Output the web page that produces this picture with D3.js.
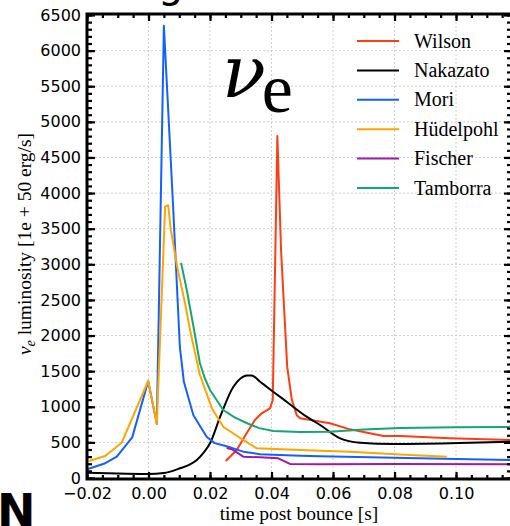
<!DOCTYPE html>
<html>
<head>
<meta charset="utf-8">
<script src="https://cdn.jsdelivr.net/npm/d3@7"></script>
<style>
  html, body { margin: 0; padding: 0; background: #fff; }
  svg { display: block; }
</style>
</head>
<body>
<div id="chart"></div>
<script>
// Electron-neutrino luminosity vs. time post bounce for six supernova models
const seriesNames = ["Wilson", "Nakazato", "Mori", "Hüdelpohl", "Fischer", "Tamborra"];
const seriesColors = ["#ff3d12", "#000000", "#1460ff", "#ffa500", "#a01aa8", "#12a870"];

const wilsonT = [0.0251, 0.0287, 0.0319, 0.0346, 0.0368, 0.0395, 0.0404, 0.0419, 0.0431, 0.0451, 0.0466, 0.0482, 0.0493, 0.0590, 0.0655, 0.0764, 0.0818, 0.0980, 0.1176];
const wilsonL = [239, 393, 627, 814, 908, 978, 1095, 4800, 3200, 1560, 1100, 880, 838, 768, 683, 590, 590, 557, 534];

const nakazatoT = [-0.0197, -0.0100, -0.0001, 0.0050, 0.0102, 0.0135, 0.0157, 0.0180, 0.0200, 0.0233, 0.0276, 0.0300, 0.0319, 0.0335, 0.0363, 0.0384, 0.0449, 0.0514, 0.0558, 0.0623, 0.0688, 0.0796, 0.0980, 0.1176];
const nakazatoL = [75, 62, 56, 70, 136, 190, 253, 360, 487, 861, 1282, 1400, 1440, 1440, 1352, 1282, 1071, 861, 744, 557, 496, 477, 487, 510];

const moriT = [-0.0197, -0.0145, -0.0103, -0.0053, -0.0001, 0.0027, 0.0050, 0.0079, 0.0102, 0.0115, 0.0146, 0.0189, 0.0215, 0.0254, 0.0308, 0.0363, 0.0493, 0.0558, 0.0800, 0.1000, 0.1176];
const moriL = [126, 200, 300, 570, 1360, 760, 6350, 3900, 1840, 1350, 880, 580, 490, 445, 370, 335, 313, 305, 285, 268, 253];

const huedelpohlT = [-0.0193, -0.0141, -0.0087, -0.0001, 0.0027, 0.0054, 0.0064, 0.0072, 0.0094, 0.0119, 0.0135, 0.0167, 0.0206, 0.0243, 0.0308, 0.0352, 0.0493, 0.0558, 0.0655, 0.0818, 0.0970];
const huedelpohlL = [239, 309, 496, 1362, 760, 3810, 3830, 3500, 2950, 2450, 2080, 1450, 980, 720, 534, 417, 393, 383, 369, 330, 300];

const fischerT = [0.0254, 0.0271, 0.0308, 0.0363, 0.0422, 0.0460, 0.0558, 0.0800, 0.1176];
const fischerL = [420, 405, 299, 290, 276, 197, 192, 195, 192];

const tamborraT = [0.0106, 0.0124, 0.0146, 0.0167, 0.0183, 0.0200, 0.0243, 0.0280, 0.0319, 0.0360, 0.0406, 0.0493, 0.0590, 0.0700, 0.0818, 0.1000, 0.1176];
const tamborraL = [3020, 2650, 2130, 1615, 1400, 1236, 955, 850, 772, 700, 660, 646, 650, 680, 702, 712, 716];

const xTickValues = [-0.02, 0.00, 0.02, 0.04, 0.06, 0.08, 0.10];
const yTickValues = [0, 500, 1000, 1500, 2000, 2500, 3000, 3500, 4000, 4500, 5000, 5500, 6000, 6500];

const allT = [wilsonT, nakazatoT, moriT, huedelpohlT, fischerT, tamborraT];
const allL = [wilsonL, nakazatoL, moriL, huedelpohlL, fischerL, tamborraL];

const W = 510, H = 526;
const frame = { left: 87, right: 512, top: 14, bottom: 479 };

const x = d3.scaleLinear().domain([-0.02, 0.1182]).range([frame.left, frame.right]);
const y = d3.scaleLinear().domain([0, 6500]).range([478, 15]);

const svg = d3.select("#chart").append("svg")
  .attr("width", W).attr("height", H)
  .style("background", "#fff");

const serif = "'Liberation Serif', 'Times New Roman', serif";
const sans = "'DejaVu Sans', sans-serif";

// dotted grid at the major ticks
const grid = svg.append("g");
grid.selectAll("line.gx").data(xTickValues.filter(v => v > -0.02))
  .join("line")
  .attr("x1", d => x(d)).attr("x2", d => x(d))
  .attr("y1", frame.top).attr("y2", frame.bottom)
  .attr("stroke", "#cfcfcf").attr("stroke-width", 1).attr("stroke-dasharray", "2,2");
grid.selectAll("line.gy").data(yTickValues.filter(v => v > 0 && v < 6500))
  .join("line")
  .attr("x1", frame.left).attr("x2", frame.right)
  .attr("y1", d => y(d)).attr("y2", d => y(d))
  .attr("stroke", "#cfcfcf").attr("stroke-width", 1).attr("stroke-dasharray", "2,2");

// clip the curves to the plotting frame
svg.append("clipPath").attr("id", "plotclip")
  .append("rect").attr("x", frame.left).attr("y", frame.top)
  .attr("width", frame.right - frame.left).attr("height", frame.bottom - frame.top);

const plot = svg.append("g").attr("clip-path", "url(#plotclip)");
seriesNames.forEach((name, i) => {
  const pts = allT[i].map((t, k) => [t, allL[i][k]]);
  const line = d3.line()
    .x(d => x(d[0])).y(d => y(d[1]))
    .curve(name === "Nakazato" ? d3.curveMonotoneX : d3.curveLinear);
  plot.append("path")
    .datum(pts)
    .attr("d", line)
    .attr("fill", "none")
    .attr("stroke", seriesColors[i])
    .attr("stroke-width", 2)
    .attr("stroke-linejoin", "round");
});

// axes with inward ticks (major + minor)
const xMinor = d3.range(-0.02, 0.1181, 0.005).map(v => +v.toFixed(3));
const yMinor = d3.range(0, 6501, 100);

const fmtX = v => (v < 0 ? "\u2212" : "") + Math.abs(v).toFixed(2);

const bottomAxis = d3.axisBottom(x).tickValues(xTickValues).tickSize(-7).tickPadding(9).tickFormat(fmtX);
const bottomMinor = d3.axisBottom(x).tickValues(xMinor).tickSize(-4).tickFormat("");
const topMinor = d3.axisTop(x).tickValues(xMinor).tickSize(-4).tickFormat("");
const topMajor = d3.axisTop(x).tickValues(xTickValues).tickSize(-7).tickFormat("");
const leftAxis = d3.axisLeft(y).tickValues(yTickValues).tickSize(-8).tickPadding(6).tickFormat(d3.format("d"));
const leftMinor = d3.axisLeft(y).tickValues(yMinor).tickSize(-5).tickFormat("");
const rightMajor = d3.axisRight(y).tickValues(yTickValues).tickSize(-8).tickFormat("");
const rightMinor = d3.axisRight(y).tickValues(yMinor).tickSize(-5).tickFormat("");

function styleAxis(g) {
  g.select(".domain").remove();
  g.selectAll(".tick line").attr("stroke", "#000").attr("stroke-width", 2.2);
  g.selectAll(".tick text").attr("fill", "#000").attr("font-family", sans).attr("font-size", 16);
}

svg.append("g").attr("transform", `translate(0,${frame.bottom})`).call(bottomMinor).call(styleAxis);
svg.append("g").attr("transform", `translate(0,${frame.bottom})`).call(bottomAxis).call(styleAxis);
svg.append("g").attr("transform", `translate(0,${frame.top})`).call(topMinor).call(styleAxis);
svg.append("g").attr("transform", `translate(0,${frame.top})`).call(topMajor).call(styleAxis);
svg.append("g").attr("transform", `translate(${frame.left},0)`).call(leftMinor).call(styleAxis);
svg.append("g").attr("transform", `translate(${frame.left},0)`).call(leftAxis).call(styleAxis);
svg.append("g").attr("transform", `translate(${frame.right},0)`).call(rightMinor).call(styleAxis);
svg.append("g").attr("transform", `translate(${frame.right},0)`).call(rightMajor).call(styleAxis);

// thick frame
svg.append("rect")
  .attr("x", frame.left).attr("y", frame.top)
  .attr("width", frame.right - frame.left).attr("height", frame.bottom - frame.top)
  .attr("fill", "none").attr("stroke", "#000").attr("stroke-width", 3);

// axis titles
svg.append("text")
  .attr("x", 299).attr("y", 520)
  .attr("text-anchor", "middle")
  .attr("font-family", serif).attr("font-size", 19.5)
  .text("time post bounce [s]");

const yl = svg.append("text")
  .attr("transform", "translate(31,244) rotate(-90)")
  .attr("text-anchor", "middle")
  .attr("font-family", serif).attr("font-size", 19.5);
yl.append("tspan").attr("font-style", "italic").text("\u03bd");
yl.append("tspan").attr("font-style", "italic").attr("font-size", 14).attr("dy", 4).text("e");
yl.append("tspan").attr("dy", -4).text(" luminosity [1e + 50 erg/s]");

// large flavour label
const nu = svg.append("text")
  .attr("x", 222).attr("y", 97);
nu.append("tspan").attr("font-family", "'DejaVu Serif', serif").attr("font-style", "italic")
  .attr("font-size", 72).text("\u03bd");
nu.append("tspan").attr("font-family", serif).attr("font-size", 70).attr("dx", -4).attr("dy", 15).text("e");

// legend
const legend = svg.append("g");
seriesNames.forEach((name, i) => {
  const ly = 41 + i * 29.4;
  legend.append("line")
    .attr("x1", 357).attr("x2", 399).attr("y1", ly).attr("y2", ly)
    .attr("stroke", seriesColors[i]).attr("stroke-width", 2);
  legend.append("text")
    .attr("x", 414).attr("y", ly + 6.5)
    .attr("font-family", serif).attr("font-size", 20)
    .text(name);
});

// fragments of neighbouring panel labels at the edges
svg.append("text")
  .attr("x", 158).attr("y", -3)
  .attr("font-family", sans).attr("font-size", 40)
  .text("g");
svg.append("text")
  .attr("x", -3).attr("y", 527)
  .attr("font-family", sans).attr("font-weight", "bold").attr("font-size", 46)
  .text("N");
</script>
</body>
</html>
